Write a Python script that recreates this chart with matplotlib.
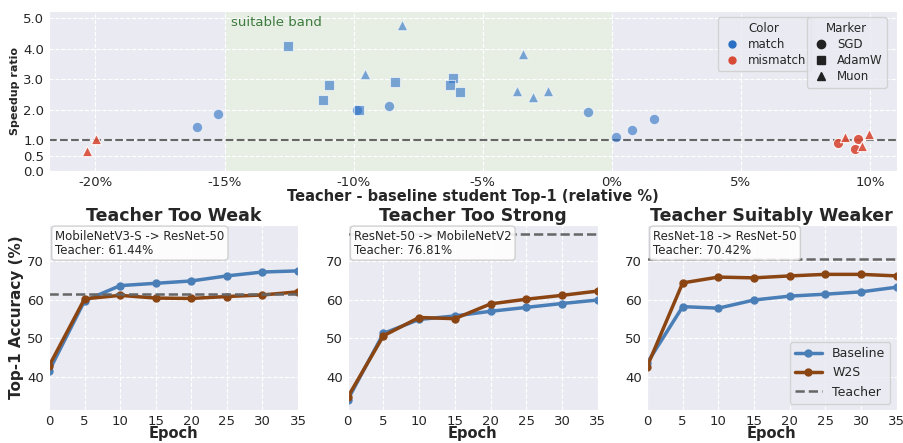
import matplotlib
matplotlib.use("Agg")
import matplotlib.pyplot as plt
from matplotlib.lines import Line2D
import seaborn as sns
import numpy as np

sns.set_style("darkgrid", {"grid.linestyle": "--"})
plt.rcParams['font.family'] = ['DejaVu Sans']

# ---- scatter data (top panel) ----
gap_pct = [-20.31, -19.97, -16.07, -15.26, -12.55, -11.19, -10.97, -9.88, -9.80, -9.55,
           -8.62, -8.39, -8.11, -6.14, -6.27, -5.89, -3.44, -3.66, -3.06, -2.47,
           -0.92, 0.15, 0.79, 1.62, 8.76, 9.05, 9.52, 9.41, 9.69, 9.95]
speedup = [0.66, 1.05, 1.43, 1.86, 4.11, 2.34, 2.81, 2.01, 2.01, 3.19,
           2.13, 2.90, 4.77, 3.04, 2.82, 2.60, 3.82, 2.61, 2.41, 2.61,
           1.93, 1.11, 1.33, 1.70, 0.93, 1.10, 1.04, 0.73, 0.82, 1.20]
optimizer = ["Muon", "Muon", "SGD", "SGD", "AdamW", "AdamW", "AdamW", "SGD", "AdamW", "Muon",
             "SGD", "AdamW", "Muon", "AdamW", "AdamW", "AdamW", "Muon", "Muon", "Muon", "Muon",
             "SGD", "SGD", "SGD", "SGD", "SGD", "Muon", "SGD", "SGD", "Muon", "Muon"]
match = ["mismatch", "mismatch"] + ["match"] * 22 + ["mismatch"] * 6

# ---- training curves (bottom panels) ----
epochs = [0, 5, 10, 15, 20, 25, 30, 35]
titles = ["Teacher Too Weak", "Teacher Too Strong", "Teacher Suitably Weaker"]
pairs = ["MobileNetV3-S -> ResNet-50", "ResNet-50 -> MobileNetV2", "ResNet-18 -> ResNet-50"]
teacher_acc = [61.44, 76.81, 70.42]
baseline = [
    [41.6, 59.7, 63.6, 64.2, 64.8, 66.1, 67.1, 67.4],
    [34.2, 51.3, 54.9, 55.8, 57.0, 58.0, 59.0, 59.9],
    [43.6, 58.2, 57.8, 59.9, 60.9, 61.4, 62.0, 63.2],
]
w2s = [
    [42.9, 60.2, 61.1, 60.4, 60.3, 60.8, 61.2, 62.0],
    [34.9, 50.7, 55.4, 55.1, 58.9, 60.1, 61.1, 62.2],
    [42.7, 64.3, 65.8, 65.6, 66.1, 66.5, 66.5, 66.1],
]

MATCH_C = "#2a6fc4"
MISMATCH_C = "#d84a36"
BASE_C = "#4a7eb6"
W2S_C = "#8b4513"
markers = {"SGD": "o", "AdamW": "s", "Muon": "^"}

fig = plt.figure(figsize=(9.04, 4.43), dpi=100)
W, H = 904, 443

def px_axes(x0, y0, x1, y1):
    return fig.add_axes([x0 / W, 1 - y1 / H, (x1 - x0) / W, (y1 - y0) / H])

# top scatter
ax = px_axes(49, 11, 897, 171)
ax.axvspan(-15, 0, color="#e6f2e0", alpha=0.7, zorder=0, lw=0)
ax.axhline(1.0, color="#666666", ls="--", lw=1.5, zorder=1)
for x, y, opt, m in zip(gap_pct, speedup, optimizer, match):
    c = MATCH_C if m == "match" else MISMATCH_C
    a = 0.6 if m == "match" else 0.9
    ax.scatter(x, y, marker=markers[opt], s=55, color=c, alpha=a,
               edgecolor="white", linewidth=0.8, zorder=3)
ax.text(-14.75, 4.87, "suitable band", color="#3d7a3d", fontsize=9.5, va="center")
ax.set_xlim(-21.8, 11.05)
ax.set_ylim(0, 5.24)
ax.set_yticks([0, 0.5, 1, 2, 3, 4, 5])
ax.set_yticklabels(["0.0", "0.5", "1.0", "2.0", "3.0", "4.0", "5.0"])
ax.set_xticks([-20, -15, -10, -5, 0, 5, 10])
ax.set_xticklabels(["-20%", "-15%", "-10%", "-5%", "0%", "5%", "10%"])
ax.tick_params(labelsize=9.5, pad=0)
ax.set_ylabel("Speedup ratio", fontsize=8, fontweight="bold", labelpad=2)
ax.set_xlabel("Teacher - baseline student Top-1 (relative %)", fontsize=10.5,
              fontweight="bold", labelpad=0)

leg_kw = dict(fontsize=8.5, title_fontsize=8.5, loc="upper right", borderaxespad=0,
              handletextpad=0.5, borderpad=0.35, labelspacing=0.28, handlelength=1.7)
color_handles = [Line2D([], [], marker="o", ls="", color=MATCH_C, markersize=5),
                 Line2D([], [], marker="o", ls="", color=MISMATCH_C, markersize=5)]
leg1 = ax.legend(color_handles, ["match", "mismatch"], title="Color",
                 bbox_to_anchor=(0.898, 0.96), **leg_kw)
ax.add_artist(leg1)
marker_handles = [Line2D([], [], marker=markers[k], ls="", color="#222222", markersize=6)
                  for k in ["SGD", "AdamW", "Muon"]]
ax.legend(marker_handles, ["SGD", "AdamW", "Muon"], title="Marker",
          bbox_to_anchor=(0.988, 0.96), **leg_kw)

# bottom curves
xs = [(49, 298), (347.7, 597.7), (647, 896.7)]
for i in range(3):
    bx = px_axes(xs[i][0], 225, xs[i][1], 410)
    bx.plot(epochs, baseline[i], color=BASE_C, lw=2.5, marker="o", markersize=5, label="Baseline")
    bx.plot(epochs, w2s[i], color=W2S_C, lw=2.5, marker="o", markersize=5, label="W2S")
    bx.axhline(teacher_acc[i], color="#666666", ls="--", lw=1.8, label="Teacher")
    bx.set_xlim(0, 35)
    bx.set_ylim(31.6, 79.2)
    bx.set_xticks(epochs)
    bx.set_yticks([40, 50, 60, 70])
    bx.tick_params(labelsize=9.5, pad=0)
    bx.set_title(titles[i], fontsize=12.5, fontweight="bold", pad=3)
    bx.set_xlabel("Epoch", fontsize=10.5, fontweight="bold", labelpad=-1)
    bx.text(0.025, 0.975, f"{pairs[i]}\nTeacher: {teacher_acc[i]:.2f}%", transform=bx.transAxes,
            fontsize=8.5, va="top", ha="left", linespacing=1.1,
            bbox=dict(boxstyle="round,pad=0.3", facecolor="white", edgecolor="#cccccc", alpha=0.9))
    if i == 0:
        bx.set_ylabel("Top-1 Accuracy (%)", fontsize=11, fontweight="bold", labelpad=2)
    if i == 2:
        bx.legend(loc="lower right", fontsize=9, handlelength=2.2)

fig.savefig("out.png", dpi=100)
